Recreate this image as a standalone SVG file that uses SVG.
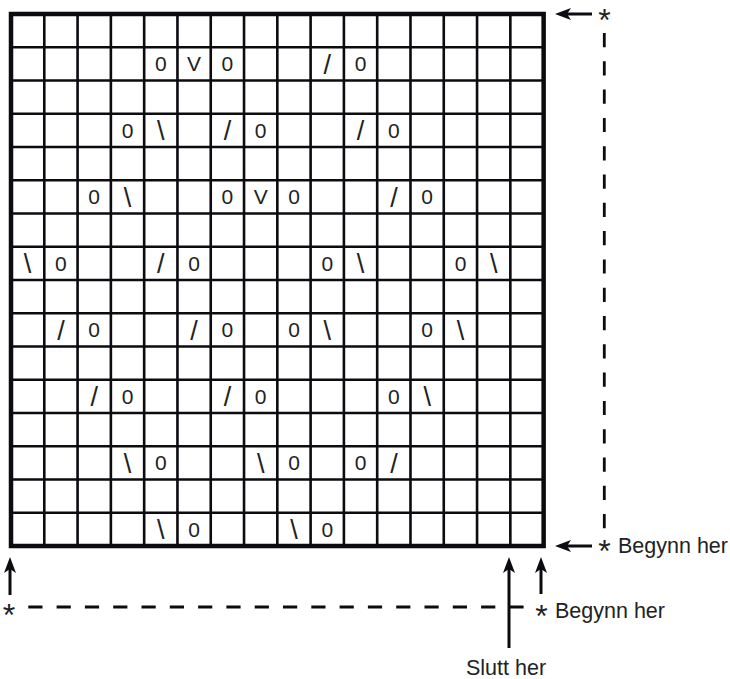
<svg xmlns="http://www.w3.org/2000/svg" width="730" height="679" viewBox="0 0 730 679">
<style>
.bg{fill:#fff}
.outer{fill:none;stroke:#0b0b10;stroke-width:4.5}
.inner{fill:none;stroke:#0b0b10;stroke-width:2.6}
.s{font-family:"Liberation Sans",Arial,sans-serif;font-size:21px;fill:#222;text-anchor:middle}
.sl{font-family:"Liberation Sans",Arial,sans-serif;font-size:27px;fill:#222;text-anchor:middle}
.lbl{font-family:"Liberation Sans",Arial,sans-serif;font-size:21.5px;fill:#222}
.ast{font-size:32px}
.arr{fill:none;stroke:#0b0b10;stroke-width:3;marker-end:url(#ah)}
.dash{fill:none;stroke:#0b0b10;stroke-width:2.8;stroke-dasharray:14.2 14.1}
</style>
<defs>
<marker id="ah" viewBox="0 0 16 12" refX="4" refY="6" markerWidth="16" markerHeight="12" markerUnits="userSpaceOnUse" orient="auto">
<path d="M0,0 L16,6 L0,12 L4,6 Z" fill="#0b0b10"/>
</marker>
</defs>
<rect class="bg" x="0" y="0" width="730" height="679"/>
<g id="chart">
<path class="inner" d="M44.29,14V546M77.58,14V546M110.87,14V546M144.16,14V546M177.45,14V546M210.74,14V546M244.03,14V546M277.32,14V546M310.61,14V546M343.9,14V546M377.19,14V546M410.48,14V546M443.77,14V546M477.06,14V546M510.35,14V546M11,47.25H543.64M11,80.5H543.64M11,113.75H543.64M11,147H543.64M11,180.25H543.64M11,213.5H543.64M11,246.75H543.64M11,280H543.64M11,313.25H543.64M11,346.5H543.64M11,379.75H543.64M11,413H543.64M11,446.25H543.64M11,479.5H543.64M11,512.75H543.64"/>
<rect class="outer" x="11" y="14" width="532.64" height="532"/>
</g>
<g id="symbols">
<!-- row 2 -->
<text class="s" x="160.8" y="71.2">0</text><text class="s" x="194.1" y="71.2">V</text><text class="s" x="227.4" y="71.2">0</text><text class="sl" x="327.3" y="73.5">/</text><text class="s" x="360.6" y="71.2">0</text>
<!-- row 4 -->
<text class="s" x="127.5" y="137.7">0</text><text class="sl" x="160.8" y="140">\</text><text class="sl" x="227.4" y="140">/</text><text class="s" x="260.7" y="137.7">0</text><text class="sl" x="360.6" y="140">/</text><text class="s" x="393.9" y="137.7">0</text>
<!-- row 6 -->
<text class="s" x="94.2" y="204.2">0</text><text class="sl" x="127.5" y="206.5">\</text><text class="s" x="227.4" y="204.2">0</text><text class="s" x="260.7" y="204.2">V</text><text class="s" x="294" y="204.2">0</text><text class="sl" x="393.9" y="206.5">/</text><text class="s" x="427.2" y="204.2">0</text>
<!-- row 8 -->
<text class="sl" x="27.6" y="273">\</text><text class="s" x="60.9" y="270.7">0</text><text class="sl" x="160.8" y="273">/</text><text class="s" x="194.1" y="270.7">0</text><text class="s" x="327.3" y="270.7">0</text><text class="sl" x="360.6" y="273">\</text><text class="s" x="460.5" y="270.7">0</text><text class="sl" x="493.8" y="273">\</text>
<!-- row 10 -->
<text class="sl" x="60.9" y="339.5">/</text><text class="s" x="94.2" y="337.2">0</text><text class="sl" x="194.1" y="339.5">/</text><text class="s" x="227.4" y="337.2">0</text><text class="s" x="294" y="337.2">0</text><text class="sl" x="327.3" y="339.5">\</text><text class="s" x="427.2" y="337.2">0</text><text class="sl" x="460.5" y="339.5">\</text>
<!-- row 12 -->
<text class="sl" x="94.2" y="406">/</text><text class="s" x="127.5" y="403.7">0</text><text class="sl" x="227.4" y="406">/</text><text class="s" x="260.7" y="403.7">0</text><text class="s" x="393.9" y="403.7">0</text><text class="sl" x="427.2" y="406">\</text>
<!-- row 14 -->
<text class="sl" x="127.5" y="472.5">\</text><text class="s" x="160.8" y="470.2">0</text><text class="sl" x="260.7" y="472.5">\</text><text class="s" x="294" y="470.2">0</text><text class="s" x="360.6" y="470.2">0</text><text class="sl" x="393.9" y="472.5">/</text>
<!-- row 16 -->
<text class="sl" x="160.8" y="539">\</text><text class="s" x="194.1" y="536.7">0</text><text class="sl" x="294" y="539">\</text><text class="s" x="327.3" y="536.7">0</text>
</g>
<g id="connectors">
<path class="arr" d="M592,14H567"/>
<path class="arr" d="M592,546H567"/>
<path class="arr" d="M10,595V569"/>
<path class="arr" d="M509,648V569"/>
<path class="arr" d="M541,594V569"/>
<path class="dash" d="M604.3,33V529"/>
<path class="dash" d="M28.3,607H524"/>
</g>
<g id="label-top">
<text class="lbl ast" x="598.3" y="30.5">*</text>
</g>
<g id="label-begynn-1">
<text class="lbl"><tspan class="ast" x="598.3" y="562">* </tspan><tspan x="618" y="553">Begynn her</tspan></text>
</g>
<g id="label-begynn-2">
<text class="lbl"><tspan class="ast" x="535.3" y="626.5">* </tspan><tspan x="555" y="618">Begynn her</tspan></text>
</g>
<g id="label-bottom-left">
<text class="lbl ast" x="2.8" y="626">*</text>
</g>
<g id="label-slutt">
<text class="lbl" x="466" y="675">Slutt her</text>
</g>
</svg>
